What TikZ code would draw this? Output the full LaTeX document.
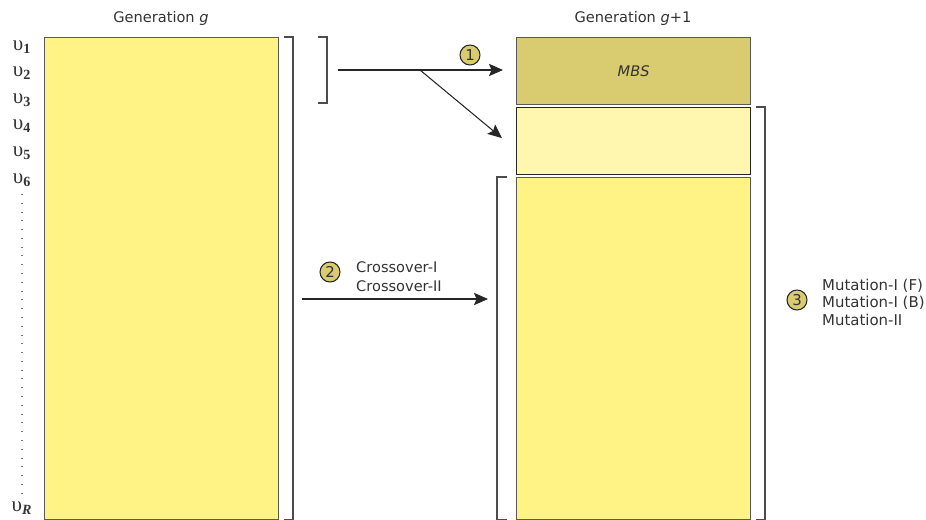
\documentclass[tikz,border=0pt]{standalone}
\usepackage{fontspec}
\setmainfont{DejaVu Sans}
\newfontfamily\upsfont{Liberation Serif}
\usepackage{tikz}
\usetikzlibrary{positioning,arrows.meta,calc}
\usepackage{xcolor}
\definecolor{popYellow}{HTML}{FFF385}
\definecolor{eliteYellow}{HTML}{FFF6B0}
\definecolor{mbsKhaki}{HTML}{D8CB70}
\definecolor{inkGray}{HTML}{333333}

\begin{document}
\begin{tikzpicture}[x=0.02cm, y=-0.02cm,
    genBox/.style={rectangle, draw=black!65, fill=popYellow, line width=0.7pt, minimum width=4.68cm, anchor=north west, inner sep=0pt, font=\fontsize{8.3}{9}\selectfont, text=inkGray},
    brk/.style={draw=black!70, line width=0.8pt},
    flowArrow/.style={-{Stealth[length=8pt, width=7pt, inset=1.5pt]}, draw=black!85, line width=0.6pt},
    stepMark/.style={circle, draw=black!85, fill=mbsKhaki, line width=0.6pt, minimum size=0.4cm, inner sep=0pt, font=\fontsize{8.5}{9}\selectfont, text=inkGray},
    lbl/.style={font=\fontsize{8.3}{9}\selectfont, text=inkGray},
    ups/.style={font=\upsfont\fontsize{12}{12}\selectfont, text=inkGray, inner sep=1pt}
]
    \useasboundingbox (0,0) rectangle (926,520);

    % column titles
    \node[lbl] (titleOld) at (161,18) {Generation \textit{g}};
    \node[lbl] (titleNew) at (633,18) {Generation \textit{g}+1};

    % population blocks
    \node[genBox, minimum height=9.64cm] (oldGen) at (44,37) {};
    \node[genBox, fill=mbsKhaki, minimum height=1.34cm] (mbs) at (516,37) {\textit{MBS}};
    \node[genBox, fill=eliteYellow, draw=black!85, minimum height=1.34cm] (elite) at (516,107) {};
    \node[genBox, minimum height=6.84cm] (offspring) at (516,177) {};

    % individuals
    \foreach \i/\y in {1/47,2/73,3/100,4/126,5/153,6/180}
        \node[ups] (u\i) at (22,\y) {υ\textsubscript{\textbf{\i}}};
    \node[ups] (uR) at (22,508) {υ\textsubscript{\textbf{\textit{R}}}};
    \draw[black!55, line width=0.7pt, dash pattern=on 0.5pt off 4.5pt] ([yshift=-3pt]u6.south) -- ([yshift=3pt]uR.north);

    % brackets
    \draw[brk] ($(oldGen.north east)+(5,0)$) -- ++(9,0) |- ($(oldGen.south east)+(5,0)$);
    \coordinate (bestTop) at (318,37);
    \coordinate (bestBot) at (318,103);
    \draw[brk] (bestTop) -- ++(9,0) -- ($(bestBot)+(9,0)$) -- (bestBot);
    \draw[brk] ($(offspring.north west)+(-9,0)$) -- ++(-10,0) |- ($(offspring.south west)+(-9,0)$);
    \draw[brk] ($(elite.north east)+(5,0)$) -- ++(9,0) |- ($(offspring.south east)+(5,0)$);

    % 1: elitism
    \coordinate (bestSrc) at (338,70);
    \coordinate (split) at (420,70);
    \draw[flowArrow, shorten >=0.26cm] (bestSrc) -- (bestSrc -| mbs.west);
    \draw[flowArrow] (split) -- ($(elite.west)+(-14,-3)$);
    \node[stepMark] (m1) at (470,55) {1};

    % 2: crossover
    \coordinate (xoSrc) at (302,299);
    \draw[flowArrow, shorten >=0.56cm] (xoSrc) -- (xoSrc -| offspring.west);
    \node[stepMark] (m2) at (330,272) {2};
    \node[lbl, anchor=west, align=left, font=\fontsize{8.3}{10.6}\selectfont] (xoText) at (350,277) {Crossover-I\\Crossover-II};

    % 3: mutation
    \node[stepMark] (m3) at (797,300) {3};
    \node[lbl, anchor=west, align=left, font=\fontsize{8.5}{10}\selectfont] (muText) at (816,302) {Mutation-I (F)\\Mutation-I (B)\\Mutation-II};
\end{tikzpicture}
\end{document}
